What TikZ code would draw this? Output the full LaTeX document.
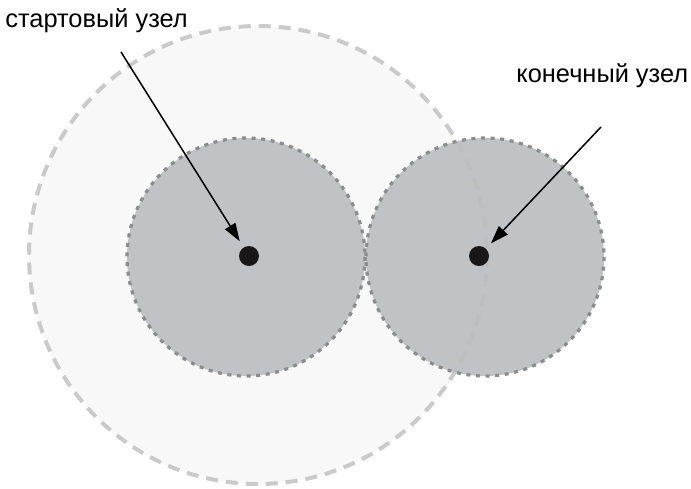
\documentclass[tikz,border=0pt]{standalone}
\usepackage{fontspec}
\setmainfont{Liberation Sans}
\usetikzlibrary{arrows.meta,positioning,calc}
\definecolor{FondoGrande}{HTML}{F8F8F8}
\definecolor{BordeGrande}{HTML}{BEBEBE}
\definecolor{FondoZona}{HTML}{C1C2C6}
\definecolor{BordeZona}{HTML}{8C8C8E}
\definecolor{Punto}{HTML}{1A1718}
\tikzset{
  etiqueta/.style={inner sep=0pt,font=\fontsize{12.7}{15}\selectfont},
  punto/.style={circle,fill=Punto,minimum size=10pt,inner sep=0pt},
  flecha/.style={-{Triangle[length=9pt,width=6pt]},line width=0.75pt,shorten >=3.5pt},
  bordegrande/.style={draw=BordeGrande,line width=2pt,dash pattern=on 6pt off 4pt},
  bordezona/.style={draw=BordeZona,line width=1.6pt,dash pattern=on 2pt off 2.8pt}
}

\begin{document}
\begin{tikzpicture}[x=0.5pt,y=-0.5pt]
        \useasboundingbox (0,0) rectangle (691,488);
        \coordinate (cg) at (258,255);
        \coordinate (ci) at (246,257);
        \coordinate (cd) at (485,257);
        % zonas
        \fill[FondoGrande] (cg) circle (229);
        \fill[FondoZona] (ci) circle (119);
        \fill[FondoZona] (cd) circle (119);
        \draw[bordegrande,draw opacity=0.8] (cg) circle (229);
        \draw[bordezona] (ci) circle (119);
        \draw[bordezona] (cd) circle (119);
        % nodos
        \node[punto] (inicio) at (249,256) {};
        \node[punto] (fin) at (479,256) {};
        \node[etiqueta,anchor=base west] (tinicio) at (5,27) {стартовый узел};
        \node[etiqueta,anchor=base west] (tfin) at (516,82) {конечный узел};
        \coordinate (ainicio) at (121,52);
        \coordinate (afin) at (601,127);
        \draw[flecha] (ainicio) -- (inicio);
        \draw[flecha] (afin) -- (fin);
      \end{tikzpicture}
\end{document}
